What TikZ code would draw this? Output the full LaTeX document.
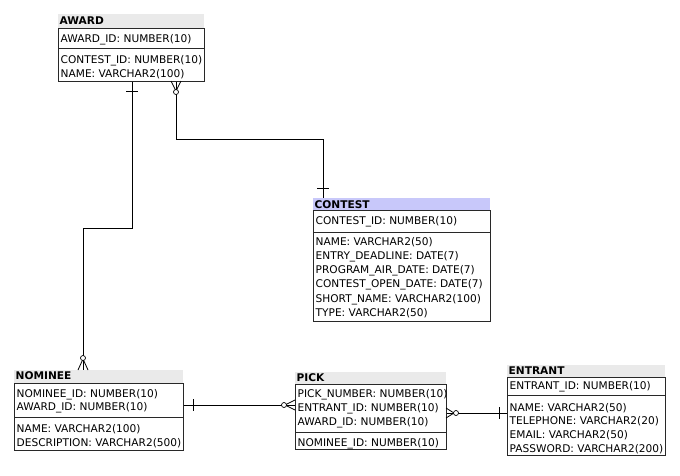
\documentclass[tikz,border=0pt]{standalone}
\usepackage{fontspec}
\setmainfont{DejaVu Sans}
\definecolor{hdrgray}{RGB}{234,234,234}
\definecolor{hdrsel}{RGB}{200,200,250}
\definecolor{boxline}{RGB}{40,40,40}
\begin{document}
\begin{tikzpicture}[x=1pt,y=-1pt,
  font=\fontsize{10.6}{13}\selectfont,
  entbox/.style={draw=boxline, line width=0.9pt, anchor=north west, inner sep=0pt},
  hdrbox/.style={fill=hdrgray, anchor=north west, inner sep=0pt},
  ttl/.style={anchor=base west, inner sep=0pt, font=\fontsize{10.6}{13}\selectfont\bfseries},
  fld/.style={anchor=base west, inner sep=0pt},
  divl/.style={draw=boxline, line width=0.9pt},
  conn/.style={draw=black, line width=0.8pt},
  mk/.style={draw=black, line width=0.8pt},
  ring/.style={draw=black, line width=0.7pt, fill=white}]
\useasboundingbox (0,0) rectangle (680,475);

% ---------- AWARD ----------
\node[hdrbox, minimum width=146pt, minimum height=14pt] (awardh) at (58,14) {};
\node[ttl] (awardt) at (59.5,24) {AWARD};
\node[entbox, minimum width=146pt, minimum height=53pt] (award) at (58,28) {};
\draw[divl] (58,48) -- (204,48);
\node[fld] (a1) at (60.5,42) {AWARD\_ID: NUMBER(10)};
\node[fld] (a2) at (60.5,63) {CONTEST\_ID: NUMBER(10)};
\node[fld] (a3) at (60.5,77) {NAME: VARCHAR2(100)};

% ---------- CONTEST ----------
\node[hdrbox, fill=hdrsel, minimum width=177pt, minimum height=12pt] (contesth) at (313,198) {};
\node[ttl] (contestt) at (314.5,208) {CONTEST};
\node[entbox, minimum width=177pt, minimum height=111pt] (contest) at (313,210) {};
\draw[divl] (313,232) -- (490,232);
\node[fld] (c1) at (315.5,224) {CONTEST\_ID: NUMBER(10)};
\node[fld] (c2) at (315.5,245) {NAME: VARCHAR2(50)};
\node[fld] (c3) at (315.5,259.3) {ENTRY\_DEADLINE: DATE(7)};
\node[fld] (c4) at (315.5,273.6) {PROGRAM\_AIR\_DATE: DATE(7)};
\node[fld] (c5) at (315.5,287.9) {CONTEST\_OPEN\_DATE: DATE(7)};
\node[fld] (c6) at (315.5,302.2) {SHORT\_NAME: VARCHAR2(100)};
\node[fld] (c7) at (315.5,316.5) {TYPE: VARCHAR2(50)};

% ---------- NOMINEE ----------
\node[hdrbox, minimum width=169pt, minimum height=13pt] (nomineeh) at (14,370) {};
\node[ttl] (nomineet) at (15.5,379.5) {NOMINEE};
\node[entbox, minimum width=169pt, minimum height=67pt] (nominee) at (14,383) {};
\draw[divl] (14,417) -- (183,417);
\node[fld] (n1) at (16.5,397) {NOMINEE\_ID: NUMBER(10)};
\node[fld] (n2) at (16.5,410.5) {AWARD\_ID: NUMBER(10)};
\node[fld] (n3) at (16.5,432.5) {NAME: VARCHAR2(100)};
\node[fld] (n4) at (16.5,446) {DESCRIPTION: VARCHAR2(500)};

% ---------- PICK ----------
\node[hdrbox, minimum width=151pt, minimum height=12pt] (pickh) at (295,372) {};
\node[ttl] (pickt) at (296.5,381) {PICK};
\node[entbox, minimum width=151pt, minimum height=65pt] (pick) at (295,384) {};
\draw[divl] (295,432) -- (446,432);
\node[fld] (p1) at (297.5,397.5) {PICK\_NUMBER: NUMBER(10)};
\node[fld] (p2) at (297.5,411) {ENTRANT\_ID: NUMBER(10)};
\node[fld] (p3) at (297.5,425) {AWARD\_ID: NUMBER(10)};
\node[fld] (p4) at (297.5,446) {NOMINEE\_ID: NUMBER(10)};

% ---------- ENTRANT ----------
\node[hdrbox, minimum width=158pt, minimum height=12pt] (entranth) at (507,365) {};
\node[ttl] (entrantt) at (508.5,374) {ENTRANT};
\node[entbox, minimum width=158pt, minimum height=78pt] (entrant) at (507,377) {};
\draw[divl] (507,395) -- (665,395);
\node[fld] (e1) at (509.5,389.5) {ENTRANT\_ID: NUMBER(10)};
\node[fld] (e2) at (509.5,411) {NAME: VARCHAR2(50)};
\node[fld] (e3) at (509.5,424.5) {TELEPHONE: VARCHAR2(20)};
\node[fld] (e4) at (509.5,438.5) {EMAIL: VARCHAR2(50)};
\node[fld] (e5) at (509.5,452) {PASSWORD: VARCHAR2(200)};

% ---------- connectors ----------
% AWARD -- NOMINEE
\coordinate (j1) at (132,228);
\coordinate (j2) at (83,228);
\draw[conn] (award.south -| j1) -- (j1) -- (j2) -- (nomineeh.north -| j2);
\draw[mk] (126,91) -- (138,91);
\draw[mk] (83,359) -- (78,370) (83,359) -- (88,370);
\draw[ring] (83,358) circle (2.5);

% AWARD -- CONTEST
\coordinate (k1) at (176,139);
\coordinate (k2) at (323,139);
\draw[conn] (award.south -| k1) -- (k1) -- (k2) -- (contesth.north -| k2);
\draw[mk] (176,91) -- (171,81) (176,91) -- (181,81);
\draw[ring] (176,92) circle (2.5);
\draw[mk] (317,188) -- (329,188);

% NOMINEE -- PICK
\coordinate (h1) at (0,405);
\draw[conn] (nominee.east |- h1) -- (pick.west |- h1);
\draw[mk] (193,399) -- (193,411);
\draw[mk] (285,405) -- (295,400) (285,405) -- (295,410);
\draw[ring] (284,405) circle (2.5);

% PICK -- ENTRANT
\coordinate (h2) at (0,413);
\draw[conn] (pick.east |- h2) -- (entrant.west |- h2);
\draw[mk] (454,413) -- (446,408) (454,413) -- (446,418);
\draw[ring] (456,413) circle (2.5);
\draw[mk] (499,407) -- (499,419);
\end{tikzpicture}
\end{document}
